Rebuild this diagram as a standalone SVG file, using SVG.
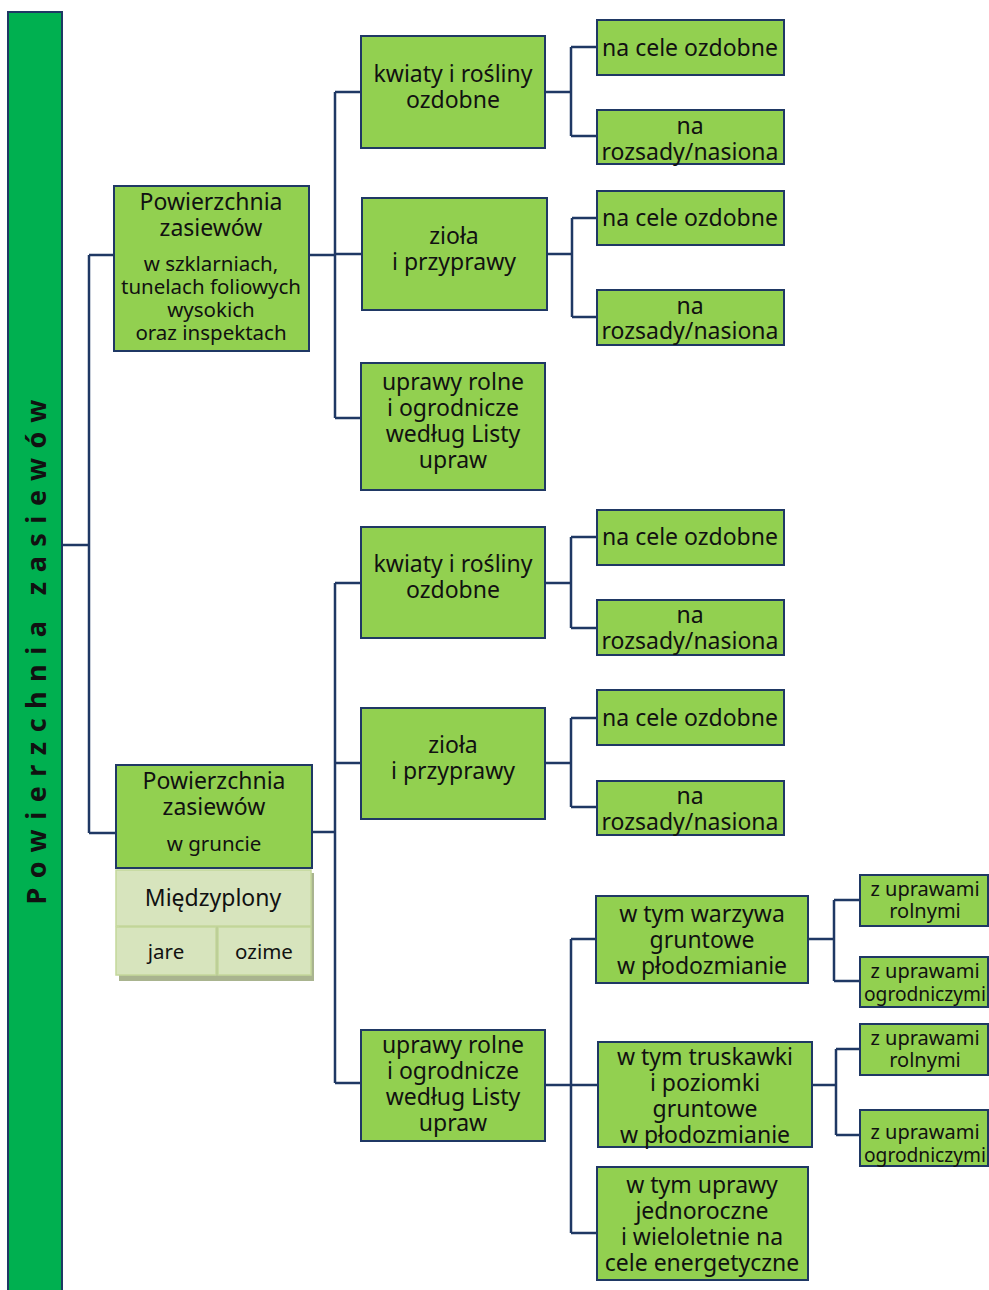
<svg xmlns="http://www.w3.org/2000/svg" width="989" height="1290" viewBox="0 0 989 1290">
<style>
.b{fill:#92d050;stroke:#1f3864;stroke-width:2}
.l{fill:#d7e4bd;stroke:#c4d79b;stroke-width:1.5}
.sh{fill:#a9b48f}
.t{font-family:"Noto Sans","Open Sans",sans-serif;font-size:23px;fill:#111;text-anchor:middle;dominant-baseline:central}
.s{font-size:20.5px}
.r{font-size:20px}
.c{fill:none;stroke:#1f3864;stroke-width:2.5}
</style>
<rect width="989" height="1290" fill="#fff"/>
<g id="root">
<rect x="8" y="12" width="54" height="1290" fill="#00b050" stroke="#1f3864" stroke-width="2"/>
<text transform="translate(35,652) rotate(-90)" font-family="'Noto Sans','Open Sans',sans-serif" font-weight="bold" font-size="27" fill="#111" text-anchor="middle" dominant-baseline="central" textLength="505" lengthAdjust="spacing">Powierzchnia zasiewów</text>
</g>
<g id="connectors">
<path class="c" d="M62,545H89M89,255V833M89,255H114M89,833H116"/>
<path class="c" d="M309,255H335M335,92V418M335,92H361M335,254H362M335,418H361"/>
<path class="c" d="M545,92H571M571,47V136M571,47H597M571,136H597"/>
<path class="c" d="M547,254H572M572,218V317M572,218H597M572,317H597"/>
<path class="c" d="M312,832H336M335,583V1083M335,583H361M335,763H361M335,1083H361"/>
<path class="c" d="M545,583H571M571,537V628M571,537H597M571,628H597"/>
<path class="c" d="M545,763H571M571,718V807M571,718H597M571,807H597"/>
<path class="c" d="M545,1085H571M571,939V1233M571,939H596M571,1085H598M571,1233H597"/>
<path class="c" d="M808,939H834M834,900V981M834,900H860M834,981H860"/>
<path class="c" d="M812,1085H836M836,1049V1135M836,1049H860M836,1135H860"/>
</g>
<g id="n1">
<rect class="b" x="114" y="186" width="195" height="165"/>
<text class="t" x="211" y="201">Powierzchnia</text>
<text class="t" x="211" y="227">zasiewów</text>
<text class="t s" x="211" y="263">w szklarniach,</text>
<text class="t s" x="211" y="286">tunelach foliowych</text>
<text class="t s" x="211" y="309">wysokich</text>
<text class="t s" x="211" y="332">oraz inspektach</text>
</g>
<g id="n2">
<rect class="sh" x="119" y="873" width="195" height="108"/>
<rect class="b" x="116" y="765" width="196" height="103"/>
<text class="t" x="214" y="780">Powierzchnia</text>
<text class="t" x="214" y="806">zasiewów</text>
<text class="t s" x="214" y="843">w gruncie</text>
</g>
<g id="n2a">
<rect class="l" x="116" y="870" width="195" height="56"/>
<text class="t" x="213" y="897">Międzyplony</text>
</g>
<g id="n2b">
<rect class="l" x="116" y="927" width="100" height="48"/>
<text class="t s" x="166" y="951">jare</text>
</g>
<g id="n2c">
<rect class="l" x="218" y="927" width="93" height="48"/>
<text class="t s" x="264" y="951">ozime</text>
</g>
<g id="a1">
<rect class="b" x="361" y="36" width="184" height="112"/>
<text class="t" x="453" y="73">kwiaty i rośliny</text>
<text class="t" x="453" y="99">ozdobne</text>
</g>
<g id="a2">
<rect class="b" x="362" y="198" width="185" height="112"/>
<text class="t" x="454" y="235">zioła</text>
<text class="t" x="454" y="261">i przyprawy</text>
</g>
<g id="a3">
<rect class="b" x="361" y="363" width="184" height="127"/>
<text class="t" x="453" y="381">uprawy rolne</text>
<text class="t" x="453" y="407">i ogrodnicze</text>
<text class="t" x="453" y="433">według Listy</text>
<text class="t" x="453" y="459">upraw</text>
</g>
<g id="a11">
<rect class="b" x="597" y="20" width="187" height="55"/>
<text class="t" x="690" y="47">na cele ozdobne</text>
</g>
<g id="a12">
<rect class="b" x="597" y="110" width="187" height="54"/>
<text class="t" x="690" y="125">na</text>
<text class="t" x="690" y="151">rozsady/nasiona</text>
</g>
<g id="a21">
<rect class="b" x="597" y="191" width="187" height="54"/>
<text class="t" x="690" y="217">na cele ozdobne</text>
</g>
<g id="a22">
<rect class="b" x="597" y="290" width="187" height="55"/>
<text class="t" x="690" y="305">na</text>
<text class="t" x="690" y="330">rozsady/nasiona</text>
</g>
<g id="b1">
<rect class="b" x="361" y="527" width="184" height="111"/>
<text class="t" x="453" y="563">kwiaty i rośliny</text>
<text class="t" x="453" y="589">ozdobne</text>
</g>
<g id="b2">
<rect class="b" x="361" y="708" width="184" height="111"/>
<text class="t" x="453" y="744">zioła</text>
<text class="t" x="453" y="770">i przyprawy</text>
</g>
<g id="b3">
<rect class="b" x="361" y="1030" width="184" height="111"/>
<text class="t" x="453" y="1044">uprawy rolne</text>
<text class="t" x="453" y="1070">i ogrodnicze</text>
<text class="t" x="453" y="1096">według Listy</text>
<text class="t" x="453" y="1122">upraw</text>
</g>
<g id="b11">
<rect class="b" x="597" y="510" width="187" height="55"/>
<text class="t" x="690" y="536">na cele ozdobne</text>
</g>
<g id="b12">
<rect class="b" x="597" y="600" width="187" height="55"/>
<text class="t" x="690" y="614">na</text>
<text class="t" x="690" y="640">rozsady/nasiona</text>
</g>
<g id="b21">
<rect class="b" x="597" y="690" width="187" height="55"/>
<text class="t" x="690" y="717">na cele ozdobne</text>
</g>
<g id="b22">
<rect class="b" x="597" y="781" width="187" height="54"/>
<text class="t" x="690" y="795">na</text>
<text class="t" x="690" y="821">rozsady/nasiona</text>
</g>
<g id="b31">
<rect class="b" x="596" y="896" width="212" height="87"/>
<text class="t" x="702" y="913">w tym warzywa</text>
<text class="t" x="702" y="939">gruntowe</text>
<text class="t" x="702" y="965">w płodozmianie</text>
</g>
<g id="b32">
<rect class="b" x="598" y="1042" width="214" height="105"/>
<text class="t" x="705" y="1056">w tym truskawki</text>
<text class="t" x="705" y="1082">i poziomki</text>
<text class="t" x="705" y="1108">gruntowe</text>
<text class="t" x="705" y="1134">w płodozmianie</text>
</g>
<g id="b33">
<rect class="b" x="597" y="1167" width="211" height="113"/>
<text class="t" x="702" y="1184">w tym uprawy</text>
<text class="t" x="702" y="1210">jednoroczne</text>
<text class="t" x="702" y="1236">i wieloletnie na</text>
<text class="t" x="702" y="1262">cele energetyczne</text>
</g>
<g id="c1">
<rect class="b" x="860" y="875" width="128" height="51"/>
<text class="t r" x="925" y="888">z uprawami</text>
<text class="t r" x="925" y="910">rolnymi</text>
</g>
<g id="c2">
<rect class="b" x="860" y="957" width="128" height="50"/>
<text class="t r" x="925" y="970">z uprawami</text>
<text class="t r" x="925" y="993" textLength="122" lengthAdjust="spacingAndGlyphs">ogrodniczymi</text>
</g>
<g id="c3">
<rect class="b" x="860" y="1024" width="128" height="51"/>
<text class="t r" x="925" y="1037">z uprawami</text>
<text class="t r" x="925" y="1059">rolnymi</text>
</g>
<g id="c4">
<rect class="b" x="860" y="1110" width="128" height="56"/>
<text class="t r" x="925" y="1131">z uprawami</text>
<text class="t r" x="925" y="1154" textLength="122" lengthAdjust="spacingAndGlyphs">ogrodniczymi</text>
</g>
</svg>
